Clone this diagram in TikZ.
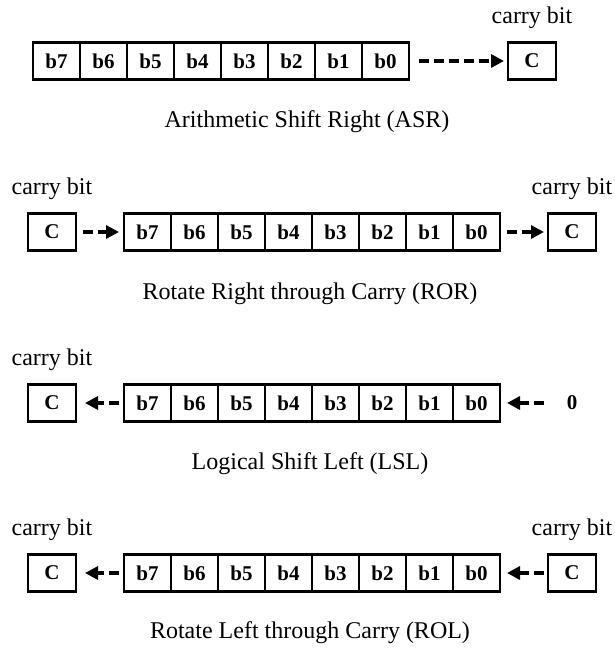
\documentclass[tikz,border=0pt]{standalone}
\usepackage{fontspec}
\setmainfont{Liberation Serif}
\usetikzlibrary{positioning,arrows.meta}

\begin{document}
\begin{tikzpicture}[x=1pt, y=1pt,
    bit/.style={draw, line width=2.9pt, minimum width=47pt, minimum height=37pt,
      inner sep=0pt, outer sep=0pt, font=\fontsize{21}{21}\selectfont\bfseries},
    carry/.style={bit, minimum width=48pt},
    lbl/.style={inner sep=0pt, font=\fontsize{24}{24}\selectfont},
    flow/.style={line width=3.6pt, dash pattern=on 10pt off 5pt,
      -{Triangle[length=13pt, width=13pt]}}]
    \useasboundingbox (0,0) rectangle (614,-648);

    % arithmetic shift right
    \node[bit] (asr7) at (56.5,-61) {b7};
    \foreach \i [evaluate=\i as \j using int(\i+1)] in {6,...,0}
      \node[bit, right=0pt of asr\j] (asr\i) {b\i};
    \node[carry] (asrc) at (532,-61) {C};
    \node[lbl, above=14pt of asrc] (asrcl) {carry bit};
    \draw[flow, shorten <=10pt, shorten >=4pt] (asr0) -- (asrc);
    \node[lbl] (asrtitle) at (307,-122) {Arithmetic Shift Right (ASR)};

    % rotate right through carry
    \node[carry] (rorcin) at (52,-232) {C};
    \node[bit] (ror7) at (147.5,-232) {b7};
    \foreach \i [evaluate=\i as \j using int(\i+1)] in {6,...,0}
      \node[bit, right=0pt of ror\j] (ror\i) {b\i};
    \node[carry] (rorcout) at (572,-232) {C};
    \node[lbl, above=14pt of rorcin] (rorcinl) {carry bit};
    \node[lbl, above=14pt of rorcout] (rorcoutl) {carry bit};
    \draw[flow, shorten <=7pt, shorten >=5pt] (rorcin) -- (ror7);
    \draw[flow, shorten <=7pt, shorten >=4pt] (ror0) -- (rorcout);
    \node[lbl] (rortitle) at (310,-294) {Rotate Right through Carry (ROR)};

    % logical shift left
    \node[carry] (lslc) at (52,-403) {C};
    \node[bit] (lsl7) at (147.5,-403) {b7};
    \foreach \i [evaluate=\i as \j using int(\i+1)] in {6,...,0}
      \node[bit, right=0pt of lsl\j] (lsl\i) {b\i};
    \node[carry, draw=none] (lslzero) at (572,-403) {0};
    \node[lbl, above=14pt of lslc] (lslcl) {carry bit};
    \draw[flow, shorten <=5pt, shorten >=9pt] (lsl7) -- (lslc);
    \draw[flow, shorten <=4pt, shorten >=7pt] (lslzero) -- (lsl0);
    \node[lbl] (lsltitle) at (310,-464) {Logical Shift Left (LSL)};

    % rotate left through carry
    \node[carry] (rolcout) at (52,-573) {C};
    \node[bit] (rol7) at (147.5,-573) {b7};
    \foreach \i [evaluate=\i as \j using int(\i+1)] in {6,...,0}
      \node[bit, right=0pt of rol\j] (rol\i) {b\i};
    \node[carry] (rolcin) at (572,-573) {C};
    \node[lbl, above=14pt of rolcout] (rolcoutl) {carry bit};
    \node[lbl, above=14pt of rolcin] (rolcinl) {carry bit};
    \draw[flow, shorten <=5pt, shorten >=9pt] (rol7) -- (rolcout);
    \draw[flow, shorten <=4pt, shorten >=7pt] (rolcin) -- (rol0);
    \node[lbl] (roltitle) at (310,-633) {Rotate Left through Carry (ROL)};
\end{tikzpicture}
\end{document}
